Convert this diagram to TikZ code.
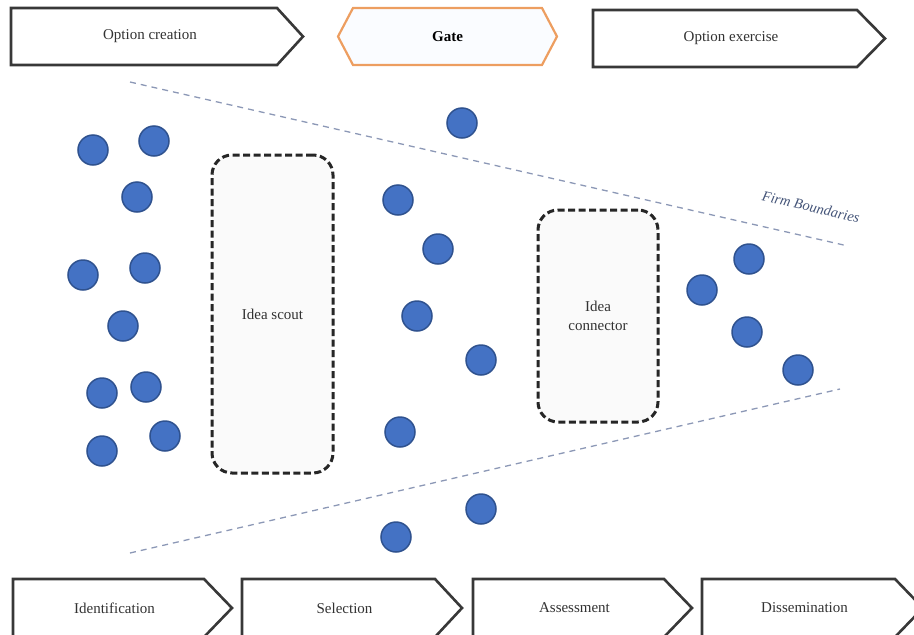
\documentclass[tikz,border=0pt]{standalone}
\usepackage{fontspec}
\setmainfont{Liberation Serif}
\definecolor{dotfill}{RGB}{68,114,196}
\definecolor{dotedge}{RGB}{47,82,143}
\definecolor{gateedge}{RGB}{237,158,96}
\definecolor{gatefill}{RGB}{250,252,255}
\definecolor{boundcol}{RGB}{140,152,182}
\definecolor{firmtext}{RGB}{68,84,120}
\definecolor{labeltext}{RGB}{50,50,50}
\tikzset{
  stageline/.style={draw=black!78, line width=2.6pt, fill=white, line join=miter},
  gateline/.style={draw=gateedge, line width=2.2pt, fill=gatefill, line join=miter},
  stagetext/.style={font=\fontsize{15}{18}\selectfont, text=labeltext, inner sep=0pt},
  dot/.style={circle, minimum size=30pt, inner sep=0pt, fill=dotfill, draw=dotedge, line width=1.5pt},
  ideabox/.style={draw=black!85, line width=3pt, dash pattern=on 7pt off 3.5pt,
    rounded corners=20pt, fill=black!2, align=center, inner sep=0pt,
    font=\fontsize{15}{19}\selectfont, text=labeltext},
  boundary/.style={draw=boundcol, line width=1.3pt, dash pattern=on 6pt off 5pt}
}
% chevron stage: name, left, top, body end, tip, bottom, label
\newcommand\stagebox[7]{%
  \draw[stageline] (#2,#3) -- (#4,#3) -- (#5,{(#3+#6)/2}) -- (#4,#6) -- (#2,#6) -- cycle;
  \node[stagetext] (#1) at ({(#2+#4)/2+6},{(#3+#6)/2}) {#7};
}
\begin{document}
\begin{tikzpicture}[x=1pt,y=-1pt]
\useasboundingbox (0,0) rectangle (914,635);
\clip (0,0) rectangle (914,635);

% top row: option phases and the gate between them
\stagebox{creation}{11}{8}{277}{303}{65}{Option creation}
\draw[gateline] (338,36.5) -- (353,8) -- (542,8) -- (557,36.5) -- (542,65) -- (353,65) -- cycle;
\node[stagetext, text=black, font=\fontsize{15}{18}\selectfont\bfseries] (gate) at (447.5,36.5) {Gate};
\stagebox{exercise}{593}{10}{857}{885}{67}{Option exercise}

% bottom row: process stages
\stagebox{ident}{13}{579}{204}{232}{637}{Identification}
\stagebox{select}{242}{579}{435}{462}{637}{Selection}
\stagebox{assess}{473}{579}{664}{692}{637}{Assessment}
\stagebox{dissem}{702}{579}{895}{923}{637}{Dissemination}

% firm boundaries
\coordinate (ub1) at (130,82);
\coordinate (ub2) at (848,246);
\coordinate (lb1) at (130,553);
\coordinate (lb2) at (840,389);
\draw[boundary] (ub1) -- (ub2);
\draw[boundary] (lb1) -- (lb2);
\node[font=\fontsize{14.5}{17}\selectfont\itshape, text=firmtext, rotate=-13] (firm) at (811,207) {Firm Boundaries};

% brokers
\node[ideabox, minimum width=121pt, minimum height=318pt] (scout) at (272.5,314) {Idea scout};
\node[ideabox, minimum width=120pt, minimum height=212pt] (connector) at (598,316) {Idea\\connector};

% ideas
\foreach \n/\px/\py in {
  a1/93/150, a2/154/141, a3/137/197, a4/83/275, a5/145/268, a6/123/326,
  a7/102/393, a8/146/387, a9/102/451, a10/165/436,
  b1/462/123, b2/398/200, b3/438/249, b4/417/316, b5/481/360, b6/400/432,
  b7/481/509, b8/396/537,
  c1/702/290, c2/749/259, c3/747/332, c4/798/370}
  \node[dot] (\n) at (\px,\py) {};
\end{tikzpicture}
\end{document}
